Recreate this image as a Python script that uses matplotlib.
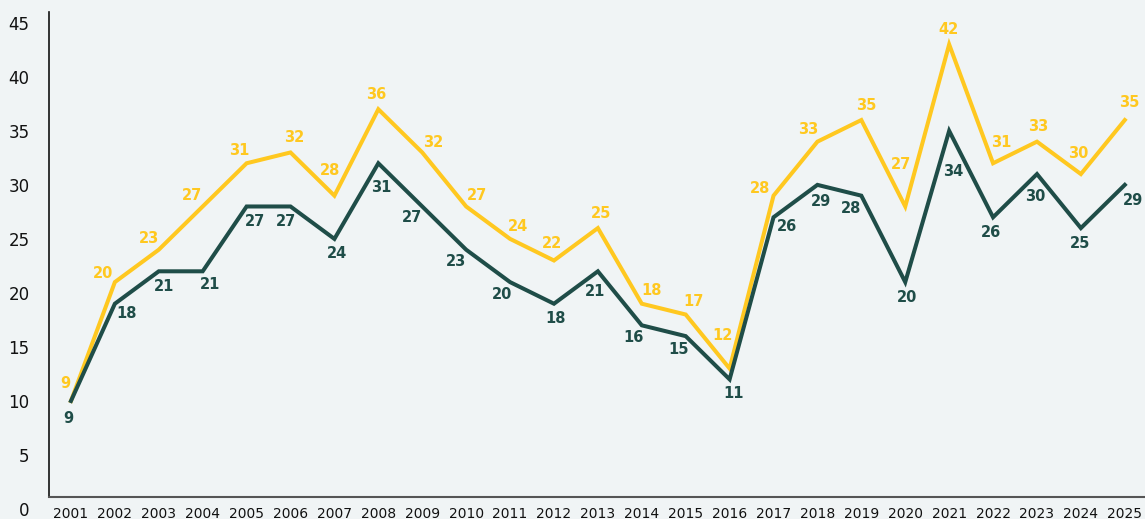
import numpy as np
import matplotlib
matplotlib.use("Agg")
import matplotlib.pyplot as plt

# chart data
years = list(range(2001, 2026))
# values as drawn by the line (the printed labels sit one below the line level)
yellow_line = [10, 21, 24, 28, 32, 33, 29, 37, 33, 28, 25, 23, 26, 19, 18, 13,
               29, 34, 36, 28, 43, 32, 34, 31, 36]
green_line = [10, 19, 22, 22, 28, 28, 25, 32, 28, 24, 21, 19, 22, 17, 16, 12,
              27, 30, 29, 21, 35, 27, 31, 26, 30]
yellow_labels = [9, 20, 23, 27, 31, 32, 28, 36, 32, 27, 24, 22, 25, 18, 17, 12,
                 28, 33, 35, 27, 42, 31, 33, 30, 35]
green_labels = [9, 18, 21, 21, 27, 27, 24, 31, 27, 23, 20, 18, 21, 16, 15, 11,
                26, 29, 28, 20, 34, 26, 30, 25, 29]
yticks = [0, 5, 10, 15, 20, 25, 30, 35, 40, 45]

YELLOW = "#FFC820"
GREEN = "#1F4D48"
BG = "#F0F4F5"

W, H = 1145, 519
fig = plt.figure(figsize=(W / 100, H / 100), dpi=100, facecolor=BG)
ax = fig.add_axes([49 / W, 10 / H, (W - 49) / W, 497 / H], facecolor=BG)

ax.plot(years, yellow_line, color=YELLOW, lw=2.9, solid_joinstyle="miter")
ax.plot(years, green_line, color=GREEN, lw=2.9, solid_joinstyle="miter")

ax.set_xlim(2000.5, 2025.46)
ax.set_ylim(0, 46)
ax.set_xticks(years)
ax.set_yticks(yticks)
ax.tick_params(axis="x", length=0, pad=7, labelsize=10, colors="#111111")
ax.tick_params(axis="y", length=0, pad=14, labelsize=12, colors="#111111")

for s in ["top", "right"]:
    ax.spines[s].set_visible(False)
ax.spines["bottom"].set_position(("data", 1.1))
ax.spines["bottom"].set_color("#555555")
ax.spines["bottom"].set_linewidth(1.5)
ax.spines["left"].set_bounds(1.1, 46)
ax.spines["left"].set_color("#111111")
ax.spines["left"].set_linewidth(1.2)


def place_labels(vals, labels, color, up):
    pts = ax.transData.transform(np.column_stack([years, vals]))
    base = 15
    n = len(pts)
    vert = np.array([0.0, 1.0 if up else -1.0])
    for i in range(n):
        if i == 0 or i == n - 1:
            j = 1 if i == 0 else n - 2
            u = pts[j] - pts[i]
            u /= np.linalg.norm(u)
            d = vert - 0.5 * u
            d /= np.linalg.norm(d)
            dist = base * 1.2
        else:
            u1 = pts[i - 1] - pts[i]
            u2 = pts[i + 1] - pts[i]
            u1 /= np.linalg.norm(u1)
            u2 /= np.linalg.norm(u2)
            s = u1 + u2
            if np.linalg.norm(s) < 1e-3:
                outward = np.array([-u2[1], u2[0]])
            else:
                outward = -s / np.linalg.norm(s)
            if (outward[1] > 0) == up:
                d = outward
                dist = base
            else:
                d = -outward
                cosang = np.clip(np.dot(u1, u2), -1, 1)
                half = np.arccos(cosang) / 2
                dist = min(base / max(np.sin(half), 0.3), 3 * base)
        ax.annotate(str(labels[i]), (years[i], vals[i]),
                    xytext=(d[0] * dist, d[1] * dist),
                    textcoords="offset pixels", ha="center", va="center",
                    color=color, fontsize=10.5, fontweight="bold")


place_labels(yellow_line, yellow_labels, YELLOW, True)
place_labels(green_line, green_labels, GREEN, False)

fig.savefig("out.png", dpi=100, facecolor=BG)
